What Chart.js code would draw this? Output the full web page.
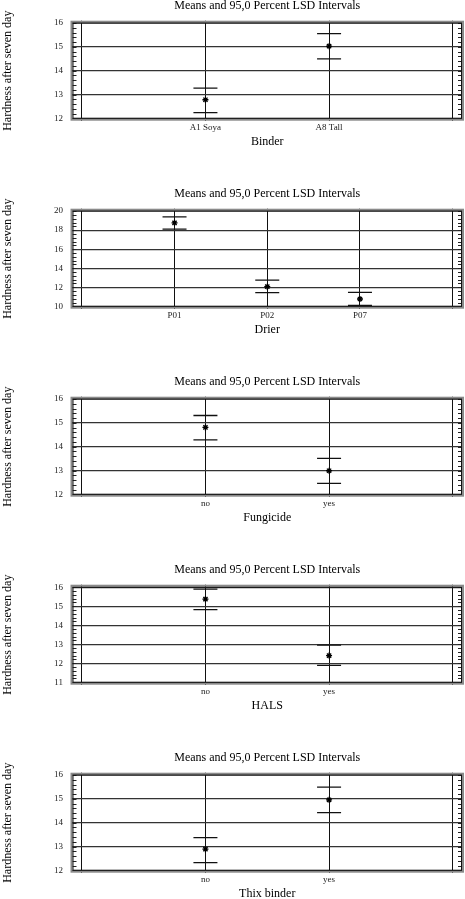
<!DOCTYPE html>
<html>
<head>
<meta charset="utf-8">
<script src="https://cdn.jsdelivr.net/npm/chart.js@4/dist/chart.umd.min.js"></script>
<style>
  html, body { margin:0; padding:0; background:#fff; width:465px; height:899px; overflow:hidden; }
  canvas { position:absolute; left:0; }
</style>
</head>
<body>
<canvas id="c0" width="465" height="149" style="top:0px"></canvas>
<canvas id="c1" width="465" height="149" style="top:188px"></canvas>
<canvas id="c2" width="465" height="149" style="top:376px"></canvas>
<canvas id="c3" width="465" height="149" style="top:564px"></canvas>
<canvas id="c4" width="465" height="149" style="top:752px"></canvas>
<script>
const chartTitle = 'Means and 95,0 Percent LSD Intervals';
const yTitle = 'Hardness after seven day';

const binderLevels = ['A1 Soya', 'A8 Tall'];
const binderMeans  = [12.78, 15.03];
const binderUpper  = [13.27, 15.56];
const binderLower  = [12.24, 14.50];
const binderTicks  = [12, 13, 14, 15, 16];

const drierLevels = ['P01', 'P02', 'P07'];
const drierMeans  = [18.77, 12.06, 10.77];
const drierUpper  = [19.40, 12.74, 11.47];
const drierLower  = [18.10, 11.43, 10.10];
const drierTicks  = [10, 12, 14, 16, 18, 20];

const fungLevels = ['no', 'yes'];
const fungMeans  = [14.81, 12.99];
const fungUpper  = [15.31, 13.51];
const fungLower  = [14.29, 12.46];
const fungTicks  = [12, 13, 14, 15, 16];

const halsLevels = ['no', 'yes'];
const halsMeans  = [15.37, 12.40];
const halsUpper  = [15.90, 12.95];
const halsLower  = [14.82, 11.89];
const halsTicks  = [11, 12, 13, 14, 15, 16];

const thixLevels = ['no', 'yes'];
const thixMeans  = [12.89, 14.96];
const thixUpper  = [13.37, 15.49];
const thixLower  = [12.32, 14.42];
const thixTicks  = [12, 13, 14, 15, 16];

const panels = [
  {name:'Binder',      levels:binderLevels, means:binderMeans, upper:binderUpper, lower:binderLower, ticks:binderTicks, ymin:11.9,  ymax:16.1,  minor:0.2},
  {name:'Drier',       levels:drierLevels,  means:drierMeans,  upper:drierUpper,  lower:drierLower,  ticks:drierTicks,  ymin:9.75,  ymax:20.25, minor:0.4},
  {name:'Fungicide',   levels:fungLevels,   means:fungMeans,   upper:fungUpper,   lower:fungLower,   ticks:fungTicks,   ymin:11.9,  ymax:16.1,  minor:0.2},
  {name:'HALS',        levels:halsLevels,   means:halsMeans,   upper:halsUpper,   lower:halsLower,   ticks:halsTicks,   ymin:10.87, ymax:16.13, minor:0.2},
  {name:'Thix binder', levels:thixLevels,   means:thixMeans,   upper:thixUpper,   lower:thixLower,   ticks:thixTicks,   ymin:11.9,  ymax:16.1,  minor:0.2}
];

const FONT = "'Liberation Serif', 'Times New Roman', serif";

const framePlugin = {
  id: 'frame',
  afterDatasetsDraw(chart, args, opts) {
    const {ctx, chartArea: a, scales} = chart;
    ctx.save();
    const ys = scales.y;
    ctx.strokeStyle = '#222';
    ctx.lineWidth = 1;
    const step = opts.minor;
    const start = Math.ceil(ys.min / step - 1e-6);
    const end = Math.floor(ys.max / step + 1e-6);
    ctx.beginPath();
    for (let i = start; i <= end; i++) {
      const py = Math.round(ys.getPixelForValue(i * step)) + 0.5;
      ctx.moveTo(a.left + 2, py); ctx.lineTo(a.left + 6, py);
      ctx.moveTo(a.right - 2, py); ctx.lineTo(a.right - 6, py);
    }
    ctx.stroke();
    ctx.strokeStyle = '#8a8a8a';
    ctx.lineWidth = 2;
    ctx.strokeRect(a.left + 1, a.top + 1, a.right - a.left - 2, a.bottom - a.top - 2);
    ctx.strokeStyle = '#111';
    ctx.lineWidth = 1;
    ctx.strokeRect(a.left + 2.5, a.top + 2.5, a.right - a.left - 5, a.bottom - a.top - 5);
    ctx.restore();
  }
};

panels.forEach((p, idx) => {
  const n = p.levels.length;
  const padUnits = 11.3 * (n + 1) / 370.9;
  const xs = p.levels.map((_, i) => i + 1);
  const mk = arr => arr.map((v, i) => ({x: xs[i], y: v}));
  new Chart(document.getElementById('c' + idx), {
    type: 'scatter',
    data: {
      datasets: [
        {data: mk(p.upper), pointStyle: 'line', pointRadius: 12, borderColor: '#111', backgroundColor: '#111', borderWidth: 1.3, showLine: false},
        {data: mk(p.lower), pointStyle: 'line', pointRadius: 12, borderColor: '#111', backgroundColor: '#111', borderWidth: 1.3, showLine: false},
        {data: mk(p.means), pointStyle: 'star', pointRadius: 3, borderColor: '#000', backgroundColor: '#000', borderWidth: 1.3, showLine: false}
      ]
    },
    options: {
      responsive: false,
      animation: false,
      devicePixelRatio: 1,
      layout: {autoPadding: false, padding: {left: 0, right: 1, top: 0, bottom: 0}},
      plugins: {
        legend: {display: false},
        tooltip: {enabled: false},
        title: {
          display: true, text: chartTitle, color: '#000', fullSize: false,
          font: {family: FONT, size: 12, weight: 'normal', lineHeight: 1},
          padding: {top: 0, bottom: 8.7}
        },
        frame: {minor: p.minor}
      },
      scales: {
        x: {
          type: 'linear',
          min: -padUnits, max: n + 1 + padUnits,
          afterBuildTicks: s => { s.ticks = Array.from({length: n + 2}, (_, i) => ({value: i})); },
          afterFit: s => { s.height = 28.3; },
          grid: {color: '#111', lineWidth: 1, drawTicks: false},
          border: {display: false},
          ticks: {
            autoSkip: false, maxRotation: 0, padding: 2, color: '#222',
            font: {family: FONT, size: 9, lineHeight: 1.2},
            callback: v => (v >= 1 && v <= n) ? p.levels[v - 1] : ''
          },
          title: {
            display: true, text: p.name, color: '#000',
            font: {family: FONT, size: 12, lineHeight: 1},
            padding: {top: 0, bottom: 0.7}
          }
        },
        y: {
          min: p.ymin, max: p.ymax,
          afterBuildTicks: s => { s.ticks = p.ticks.map(v => ({value: v})); },
          afterFit: s => { s.width = 70.5; },
          grid: {color: '#333', lineWidth: 1.2, drawTicks: false},
          border: {display: false},
          ticks: {
            padding: 7.5, color: '#222',
            font: {family: FONT, size: 9, lineHeight: 1.2}
          },
          title: {
            display: true, text: yTitle, color: '#000',
            font: {family: FONT, size: 12, lineHeight: 1},
            padding: {top: 2, bottom: 0}
          }
        }
      }
    },
    plugins: [framePlugin]
  });
});
</script>
</body>
</html>
